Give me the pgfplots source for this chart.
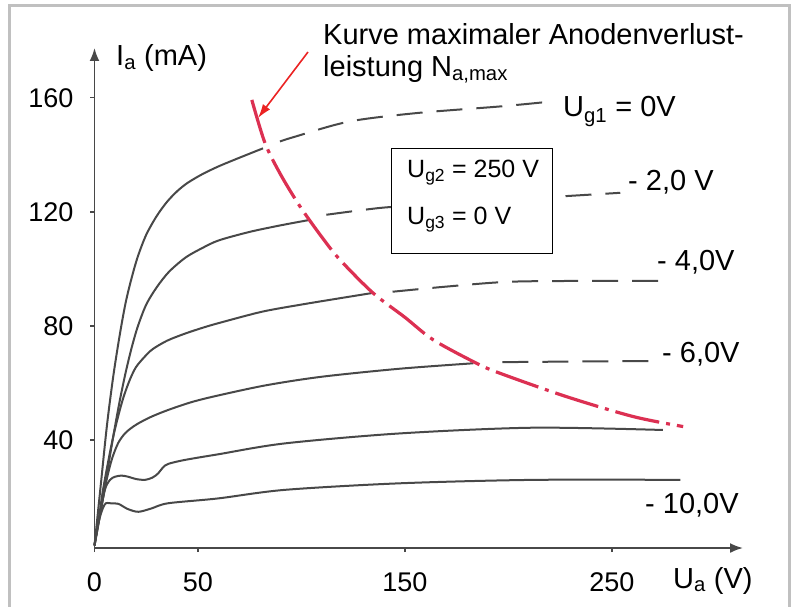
\documentclass[border=0pt]{standalone}
\usepackage{fontspec}
\setmainfont{Liberation Sans}
\usepackage{pgfplots}
\pgfplotsset{compat=1.18}
\usetikzlibrary{arrows.meta}
\definecolor{curve}{RGB}{72,72,72}
\definecolor{verlust}{RGB}{220,48,82}
\definecolor{pfeil}{RGB}{235,35,35}
\definecolor{rahmen}{RGB}{192,192,192}
\newcommand{\lbl}{\fontsize{29}{33}\selectfont}
\newcommand{\tlbl}{\fontsize{27}{31}\selectfont}

\begin{document}
\begin{tikzpicture}
\begin{axis}[
  at={(94.5pt,-548pt)}, anchor=south west,
  scale only axis, width=648.5pt, height=500pt,
  xmin=0, xmax=313.3, ymin=2.1, ymax=177.5,
  axis lines=left,
  axis line style={line width=1.8pt, draw=curve, -{Latex[length=13pt,width=10pt]}},
  xtick={0,50,150,250}, ytick={40,80,120,160},
  xticklabels={\tlbl 0,\tlbl 50,\tlbl 150,\tlbl 250},
  yticklabels={\tlbl 40,\tlbl 80,\tlbl 120,\tlbl 160},
  tick align=outside, major tick length=4pt,
  tick style={line width=1.2pt, draw=curve},
  xticklabel style={anchor=north, inner sep=0pt, yshift=-20pt},
  yticklabel style={anchor=east, inner sep=0pt, xshift=-17pt},
  clip=false,
  every axis plot/.append style={line width=2pt, smooth},
]
% U_g1 = 0 V
\addplot[curve] coordinates {(0,3)(3,24)(6,45)(9,62)(12,76)(15,88)(18,97)(21,104.5)(25,112)(30,118.5)(35,123.5)(40,127.3)(45,130.2)(52,133.2)(60,136)(70,139)(81.4,142.3)};
\addplot[curve, dash pattern=on 26pt off 14pt] coordinates {(89.6,144.7)(96,146.2)(123,151.7)(156,154.7)(196,157)(219,158.6)};
% -2 V
\addplot[curve] coordinates {(0,3)(3,15)(6,28)(9,41)(12,53)(15,63.5)(18,72.5)(21,80)(25,87.5)(30,93.5)(36,99)(44,104)(52,107.3)(60,110)(75,113)(90,115.3)(104,117.2)};
\addplot[curve, dash pattern=on 26pt off 14pt] coordinates {(112,119)(138,121.4)(160,122.5)(190,124)(222,125.3)(254,126.7)};
% -4 V
\addplot[curve] coordinates {(0,3)(2,12)(4,22)(6.5,32)(9,41)(11.5,48.5)(14,55)(17,61)(20,65.5)(24,69)(28,71.8)(35,74.8)(43.7,77.3)(52,79.3)(60,81)(81,85)(100,87.5)(115,89.3)(134.6,91.6)};
\addplot[curve, dash pattern=on 26pt off 14pt] coordinates {(144,92)(170,93.8)(200.6,95.5)(240,95.8)(274.6,95.8)};
% -6 V
\addplot[curve] coordinates {(0,3)(2,11)(4,19)(6,26.5)(8.5,33.5)(11.5,39)(15,42.5)(20,45.3)(27,48)(35.5,50.5)(47,53.3)(59.7,55.6)(83,59.2)(110,62.2)(147.6,65)(183,66.9)};
\addplot[curve, dash pattern=on 26pt off 14pt] coordinates {(197,67.3)(230,67.5)(271.7,67.7)};
% -8 V
\addplot[curve] coordinates {(0,3)(2,12)(5,22.5)(7.5,26)(9.9,27.1)(13,27.5)(16.3,27.1)(20,26.3)(24.4,26)(28,26.8)(30.8,28.3)(33,30.3)(35.6,31.6)(43.7,33)(60,35)(92,38.8)(147.6,42.3)(212,44.3)(274.6,43.5)};
% -10 V
\addplot[curve] coordinates {(0,3)(1.8,10.8)(4,16)(5.5,17.8)(7.5,17.8)(11.5,17.6)(16,15.8)(21.2,14.8)(27.6,16)(35.6,17.8)(59.8,19.5)(92,22.5)(147.6,24.8)(212,26)(283,26)};
% Kurve maximaler Anodenverlustleistung
\addplot[verlust, line width=3.2pt, dash pattern=on 45pt off 7pt on 4pt off 7pt] coordinates {(76,159.3)(82.4,144.1)(90,133)(99.3,121.9)(110,111)(118.6,103.2)(134.5,91.6)(150,83)(163.7,75.1)(184.6,66.9)(195.9,63.4)(228,55.2)(260.3,48.2)(284.4,44.7)};
\end{axis}
\begin{scope}[x=1pt,y=-1pt]
\draw[rahmen, line width=3pt] (9.5,640) -- (9.5,5.5) -- (789.5,5.5) -- (789.5,640);
\draw[line width=1.5pt, fill=white] (391.7,148.3) rectangle (552.7,253.3);
\node[anchor=base west, inner sep=0pt] at (407,178) {\fontsize{25}{30}\selectfont U\textsubscript{g2} = 250 V};
\node[anchor=base west, inner sep=0pt] at (407,225) {\fontsize{25}{30}\selectfont U\textsubscript{g3} = 0 V};
\draw[pfeil, line width=1.6pt, -{Latex[length=14pt,width=9pt]}] (308,52) -- (258,118);
\node[anchor=base west, inner sep=0pt] at (323,45) {\lbl Kurve maximaler Anodenverlust-};
\node[anchor=base west, inner sep=0pt] at (323,77) {\lbl leistung N\textsubscript{a,max}};
\node[anchor=base west, inner sep=0pt] at (116,66) {\lbl I\textsubscript{a} (mA)};
\node[anchor=base west, inner sep=0pt] at (673,588) {\lbl U\textsubscript{a} (V)};
\node[anchor=base west, inner sep=0pt] at (563,117) {\lbl U\textsubscript{g1} = 0V};
\node[anchor=base west, inner sep=0pt] at (628,190) {\lbl - 2,0 V};
\node[anchor=base west, inner sep=0pt] at (657,270) {\lbl - 4,0V};
\node[anchor=base west, inner sep=0pt] at (662,362) {\lbl - 6,0V};
\node[anchor=base west, inner sep=0pt] at (645,513) {\lbl - 10,0V};
\end{scope}
\pgfresetboundingbox
\path[use as bounding box] (0pt,0pt) rectangle (793pt,-607pt);
\end{tikzpicture}
\end{document}
